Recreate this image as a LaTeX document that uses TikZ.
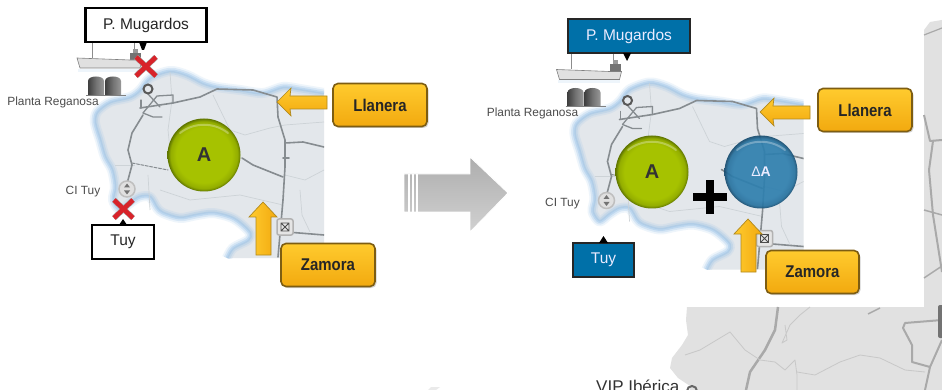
\documentclass[tikz,border=0pt]{standalone}
\usepackage{fontspec}
\setmainfont{Liberation Sans}
\usetikzlibrary{shadows}
\definecolor{grA}{HTML}{A6C200}
\definecolor{grB}{HTML}{93AD00}
\definecolor{grC}{HTML}{5F7500}
\definecolor{blA}{HTML}{2F7FAE}
\definecolor{blB}{HTML}{27729F}
\definecolor{blC}{HTML}{164B6E}
\definecolor{landc}{HTML}{E3E7EB}
\definecolor{roadc}{HTML}{868C90}
\definecolor{borderc}{HTML}{CDD3D7}
\definecolor{coastc}{HTML}{8FBDE6}
\definecolor{tagblue}{HTML}{0070A8}
\definecolor{bggray}{HTML}{E1E1E1}
\definecolor{bgroad}{HTML}{A9A9A9}
\definecolor{bgthin}{HTML}{C8C8C8}
\definecolor{goldtop}{HTML}{FFCB2E}
\definecolor{goldbot}{HTML}{F2A90F}
\definecolor{goldrim}{HTML}{7D5D12}
\definecolor{crossred}{HTML}{D8232A}
\pgfdeclareradialshading{ballgreen}{\pgfpoint{0bp}{0bp}}{color(0bp)=(grA); color(19bp)=(grA); color(23bp)=(grB); color(25bp)=(grC); color(50bp)=(grC)}
\pgfdeclareradialshading{ballblue}{\pgfpoint{0bp}{0bp}}{color(0bp)=(blA); color(19bp)=(blA); color(23bp)=(blB); color(25bp)=(blC); color(50bp)=(blC)}
\newcommand{\coastpts}{(227,258)(233,248)(248,240)(250,233)(240,223)(230,217)(213,213)(197,215)(180,218)(163,213)(157,208)(150,197)(140,197)(130,203)(120,210)(113,200)(115,187)(112,170)(105,157)(100,140)(95,123)(97,112)(110,102)(130,97)(140,90)(150,78)(170,71)(187,75)(203,83)(217,87)(240,90)(263,93)(283,87)(300,89)(324,93)}
\newcommand{\ballglow}[1]{\draw[white,opacity=.3,line width=2pt,line cap=round] ([shift={(-24,-22)}]#1.center) .. controls ([shift={(-10,-33)}]#1.center) and ([shift={(10,-33)}]#1.center) .. ([shift={(24,-22)}]#1.center);}
\tikzset{
  x=1pt,y=-1pt,
  road/.style={draw=roadc,line width=1.6pt,line join=round,line cap=round},
  thinb/.style={draw=borderc,line width=.7pt,line join=round},
  maplabel/.style={text=black!70,font=\fontsize{11.9}{13}\selectfont,inner sep=0pt},
  blacktag/.style={draw=black,line width=2.2pt,fill=white,text=black!85,font=\fontsize{15.5}{17}\selectfont,inner sep=0pt,drop shadow={shadow xshift=1pt,shadow yshift=-1pt,opacity=.3}},
  bluetag/.style={draw=black!85,line width=2pt,fill=tagblue,text=white!92!blue,font=\fontsize{15.5}{17}\selectfont,inner sep=0pt,drop shadow={shadow xshift=1pt,shadow yshift=-1pt,opacity=.3}},
  goldtag/.style={draw=goldrim,line width=1.6pt,top color=goldtop,bottom color=goldbot,rounded corners=5pt,text=black!85,font=\fontsize{17}{19}\selectfont\bfseries,inner sep=0pt,drop shadow={shadow xshift=1.5pt,shadow yshift=-1.5pt,opacity=.35}},
  greenball/.style={circle,minimum size=73pt,inner sep=0pt,shading=ballgreen,font=\fontsize{20}{22}\selectfont\bfseries,text=black!80},
  blueball/.style={circle,minimum size=73pt,inner sep=0pt,shading=ballblue,fill opacity=.92,text opacity=1,text=white!92!blue,font=\fontsize{14}{16}\selectfont},
  redx/.style={draw=crossred,line width=4.6pt},
  redxrim/.style={draw=black!35,line width=5.6pt},
  goldarrow/.style={draw=goldrim!60!goldtop,line width=.7pt,line join=miter},
  gasmap/.pic={
    \begin{scope}
      \clip (50,20) rectangle (324,258);
      \fill[landc] plot[smooth,tension=.5] coordinates {\coastpts} -- (324,258) -- cycle;
      \draw[coastc,opacity=.15,line width=10pt,line join=round] plot[smooth,tension=.5] coordinates {\coastpts};
      \draw[coastc,opacity=.25,line width=6.5pt,line join=round] plot[smooth,tension=.5] coordinates {\coastpts};
      \draw[coastc,opacity=.35,line width=3pt,line join=round] plot[smooth,tension=.5] coordinates {\coastpts};
      \draw[thinb] (170,72) -- (172,100) -- (168,130) -- (172,170);
      \draw[thinb] (213,95) -- (230,130) -- (245,135) -- (270,128) -- (285,125) -- (324,122);
      \draw[thinb] (115,165) -- (135,165);
      \draw[thinb] (148,175) -- (150,210);
      \draw[thinb] (300,190) -- (302,215) -- (310,232);
      \draw[thinb] (160,190) -- (190,200) -- (240,195) -- (283,205);
      \draw[thinb] (285,175) -- (305,180) -- (324,170);
      \draw[road] (143,115) -- (132,133) -- (128,150) -- (132,165) -- (128,180) -- (126,187);
      \draw[road] (140,108) -- (173,103) -- (200,97) -- (217,89) -- (253,90) -- (277,97) -- (278,117) -- (285,140) -- (285,167) -- (283,200) -- (278,257);
      \draw[road] (285,143) -- (303,142) -- (324,147);
      \draw[road] (242,158) -- (253,165) -- (283,177);
      \draw[road] (283,158) -- (289,158);
      \draw[road,dashed,line width=1pt,dash pattern=on 3pt off 1.5pt] (132,163) -- (168,170);
      \draw[road] (287,232) -- (324,235);
      \draw[road,line width=1.3pt] (148,94) -- (160,107);
      \draw[road,line width=1.3pt] (143,113) -- (157,96) -- (173,95) -- (173,103);
      \draw[road,line width=1.3pt] (143,113) -- (153,117) -- (162,117);
      \draw[road,line width=1.3pt] (141,100) -- (141,108);
    \end{scope}
    % ship
    \draw[black!45,line width=.7pt] (92,42) -- (92,58) (134,42) -- (134,54);
    \fill[black!55] (130,53) rectangle (141,60);
    \fill[black!40] (133,49) rectangle (138,53);
    \draw[black!50,fill=black!12,line width=.6pt] (77,58) -- (130,60) -- (142,60) -- (140,68) -- (80,68) -- cycle;
    \fill[coastc,opacity=.15] (78,69) rectangle (140,72);
    % tanks
    \foreach \tx in {88,105}{
      \shade[left color=black!75,right color=black!40,middle color=black!55]
        (\tx,95) -- (\tx,81) .. controls (\tx,75) and (\tx+16,75) .. (\tx+16,81) -- (\tx+16,95) -- cycle;
    }
    \draw[black!50,line width=.6pt] (86,95) -- (126,95);
    % terminal ring
    \draw[black!65,line width=2pt,fill=landc] (148,89) circle (4.5);
    % Tuy station
    \draw[black!25,line width=1.5pt,fill=black!12] (127,189) circle (8);
    \fill[black!55] (127,183.5) -- (130,187.5) -- (124,187.5) -- cycle;
    \fill[black!55] (127,194.5) -- (130,190.5) -- (124,190.5) -- cycle;
    % Zamora station
    \draw[black!30,line width=1.5pt,fill=black!10,rounded corners=2pt] (277,219) rectangle (293,235);
    \draw[black!70,line width=.8pt] (281,223) rectangle (289,231) (281,223) -- (289,231) (289,223) -- (281,231);
    \node[maplabel] (-planta) at (53,102) {Planta Reganosa};
    \node[maplabel] (-cituy) at (83,192) {CI Tuy};
  },
  goldleft/.pic={
    \path[goldarrow,top color=goldtop,bottom color=goldbot]
      (0,0) -- (14,-14) -- (13,-6) -- (50,-6) -- (50,7) -- (13,7) -- (14,14) -- cycle;
  },
  goldup/.pic={
    \path[goldarrow,left color=goldtop,right color=goldbot]
      (0,0) -- (14,15) -- (8,15) -- (8,53) -- (-7,53) -- (-7,15) -- (-14,15) -- cycle;
  }
}
\begin{document}
\begin{tikzpicture}[x=1pt,y=-1pt]
\useasboundingbox (0,0) rectangle (942,390);
\clip (0,0) rectangle (942,390);
\fill[white] (0,0) rectangle (942,390);
% background map behind the figure
\fill[bggray] (687,307) -- (686,320) -- (688,335) -- (682,345) -- (672,358) -- (670,368) -- (678,378) -- (690,386) -- (690,390) -- (942,390) -- (942,20) -- (930,22) -- (924,30) -- (924,307) -- cycle;
\fill[bggray!70] (428,390) -- (431,387) -- (440,387) -- (436,390) -- cycle;
\draw[bgroad,line width=2.5pt,line join=round] (778,307) -- (775,330) -- (765,350) -- (750,372) -- (746,390);
\draw[bgroad,line width=2pt,line join=round] (942,320) -- (905,323) -- (903,328) -- (912,345) -- (912,362) -- (930,367) -- (942,340);
\draw[bgroad,line width=2pt] (930,367) -- (925,390);
\draw[bgroad,line width=1.5pt] (868,314) -- (880,308);
\draw[bgroad,line width=2pt,line join=round] (924,115) -- (930,141) -- (942,140);
\draw[bgroad,line width=2pt,line join=round] (933,141) -- (929,170) -- (933,215) -- (942,272);
\draw[bgroad,line width=1.5pt] (924,210) -- (942,215);
\draw[bgroad,line width=1.5pt] (924,278) -- (942,266);
\draw[bgroad,line width=1.2pt] (924,35) -- (942,28);
\fill[black!55,rounded corners=2pt] (938,305) rectangle (944,338);
\draw[bgthin,line width=.8pt,line join=round] (685,355) -- (700,350) -- (730,332) -- (745,350) -- (760,360) -- (775,362) -- (785,370) -- (795,360) -- (797,375) -- (797,390);
\draw[bgthin,line width=.8pt,line join=round] (797,372) -- (815,375) -- (840,362) -- (860,355) -- (880,358) -- (905,370) -- (925,372);
\draw[bgthin,line width=.8pt,line join=round] (785,325) -- (787,340) -- (782,343) -- (790,325) -- (800,315) -- (810,307);
\node[anchor=base west,inner sep=0pt,text=black!80,font=\fontsize{17}{19}\selectfont] (vip) at (596,392) {VIP Ibérica};
\draw[black!60,line width=2pt] (692,391) circle (5);

% grey transition arrow
\path[top color=black!32,bottom color=black!18,draw=white,line width=.8pt]
  (404,174) -- (470,174) -- (470,157) -- (508,193) -- (470,232) -- (470,212) -- (404,212) -- cycle;
\foreach \sx in {409,413,417}{\draw[white,line width=1.1pt] (\sx,174) -- (\sx,212);}

% left panel
\pic (L) at (0,0) {gasmap};
\node[greenball] (aL) at (204,155) {A};
\ballglow{aL}
\draw[redxrim] (136,57) -- (156,76) (156,57) -- (136,76);
\draw[redx] (136,57) -- (156,76) (156,57) -- (136,76);
\draw[redxrim] (114,200) -- (133,218) (133,200) -- (114,218);
\draw[redx] (114,200) -- (133,218) (133,200) -- (114,218);
\node[blacktag,minimum width=121pt,minimum height=34pt] (mugL) at (146,25) {P. Mugardos};
\fill[black] (139,42) -- (147,42) -- (144,50) -- (142,50) -- cycle;
\node[blacktag,minimum width=62pt,minimum height=34pt] (tuyL) at (123,242) {Tuy};
\fill[black] (119,225) -- (127,225) -- (123,219) -- cycle;
\pic at (277,102) {goldleft};
\pic at (263,202) {goldup};
\node[goldtag,minimum width=94pt,minimum height=43pt] (llaL) at (380,105) {\scalebox{.88}[1]{Llanera}};
\node[goldtag,minimum width=94pt,minimum height=43pt] (zamL) at (328,265) {\scalebox{.88}[1]{Zamora}};

% right panel
\pic (R) at (479.5,11.5) {gasmap};
\node[bluetag,minimum width=122pt,minimum height=34pt] (mugR) at (629,36) {P. Mugardos};
\fill[black] (623,53) -- (631,53) -- (627,61) -- cycle;
\node[bluetag,minimum width=61pt,minimum height=34pt] (tuyR) at (603.5,260) {Tuy};
\fill[black] (599,243) -- (608,243) -- (603.5,236) -- cycle;
\node[greenball] (aR) at (652,172) {A};
\ballglow{aR}
\node[blueball] (dA) at (761,172) {Δ\textbf{A}};
\ballglow{dA}
\fill[black] (706,180) rectangle (713.5,214);
\fill[black] (693,193.5) rectangle (727,201);
\pic at (760,112) {goldleft};
\pic at (748,219) {goldup};
\node[goldtag,minimum width=94pt,minimum height=43pt] (llaR) at (865,110) {\scalebox{.88}[1]{Llanera}};
\node[goldtag,minimum width=93pt,minimum height=43pt] (zamR) at (812.5,272) {\scalebox{.88}[1]{Zamora}};
\end{tikzpicture}
\end{document}
